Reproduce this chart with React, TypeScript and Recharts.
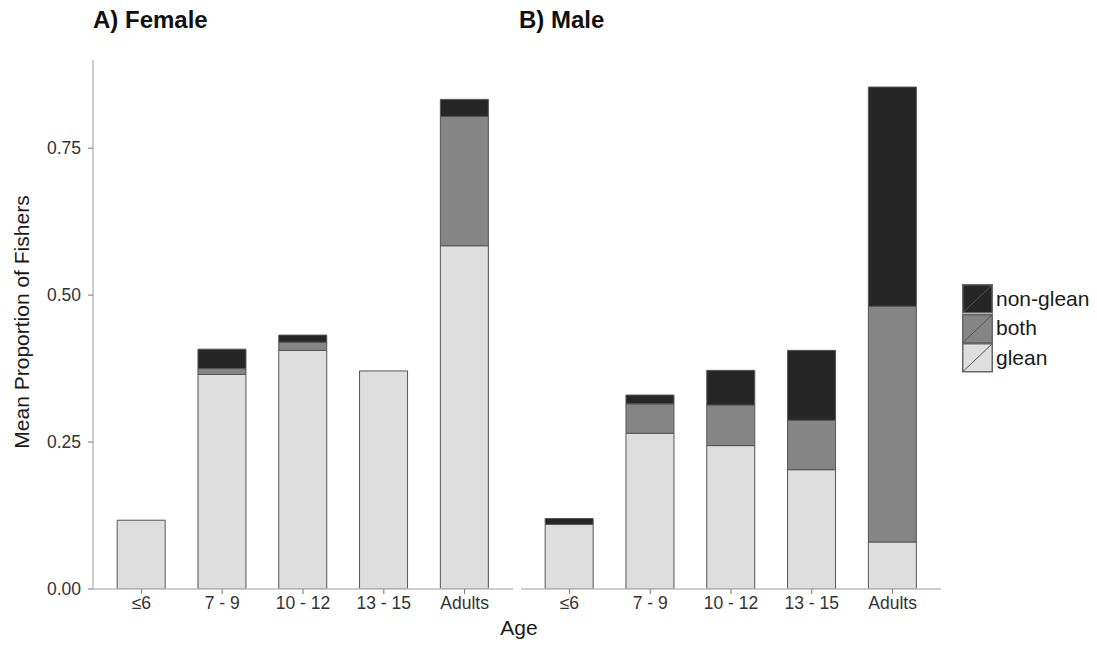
import React from 'react';
import { BarChart, Bar, XAxis, YAxis } from 'recharts';

// Age classes on the x axis
const ageGroups = ['≤6', '7 - 9', '10 - 12', '13 - 15', 'Adults'];

// Mean proportion of fishers by fishing type — females
const femaleGlean = [0.117, 0.365, 0.406, 0.371, 0.584];
const femaleBoth = [0, 0.01, 0.014, 0, 0.22];
const femaleNonGlean = [0, 0.033, 0.012, 0, 0.029];

// Mean proportion of fishers by fishing type — males
const maleGlean = [0.11, 0.265, 0.244, 0.203, 0.08];
const maleBoth = [0, 0.05, 0.069, 0.084, 0.401];
const maleNonGlean = [0.01, 0.015, 0.059, 0.119, 0.373];

const yTicks = [0, 0.25, 0.5, 0.75];

// Stacking order bottom → top
const series = [
  { key: 'glean', label: 'glean', fill: '#dedede' },
  { key: 'both', label: 'both', fill: '#858585' },
  { key: 'nonGlean', label: 'non-glean', fill: '#262626' },
];

const build = (g: number[], b: number[], n: number[]) =>
  ageGroups.map((age, i) => ({ age, glean: g[i], both: b[i], nonGlean: n[i] }));

const femaleData = build(femaleGlean, femaleBoth, femaleNonGlean);
const maleData = build(maleGlean, maleBoth, maleNonGlean);

const FONT = '"Liberation Sans", Arial, Helvetica, sans-serif';
const AXIS_LINE = { stroke: '#bdbdbd', strokeWidth: 1.5 };
const TICK_LINE = { stroke: '#777', strokeWidth: 1 };
const TICK_TEXT = { fill: '#333', fontSize: 17.5, fontFamily: FONT };
const Y_DOMAIN: [number, number] = [0, 0.9];

const bars = () =>
  series.map((s) => (
    <Bar
      key={s.key}
      dataKey={s.key}
      stackId="a"
      fill={s.fill}
      stroke="#555"
      strokeWidth={1}
      isAnimationActive={false}
    />
  ));

const xAxis = () => (
  <XAxis
    dataKey="age"
    type="category"
    padding={{ left: 8, right: 8 }}
    axisLine={AXIS_LINE}
    tickLine={TICK_LINE}
    tickSize={5}
    tickMargin={3}
    tick={TICK_TEXT}
    height={30}
    interval={0}
  />
);

export default function App() {
  return (
    <div
      style={{
        position: 'absolute',
        left: 0,
        top: 0,
        width: 1097,
        height: 645,
        background: '#fff',
        fontFamily: FONT,
      }}
    >
      {/* Panel titles */}
      <div style={{ position: 'absolute', left: 93, top: 6, fontSize: 24, fontWeight: 'bold', color: '#111' }}>
        A) Female
      </div>
      <div style={{ position: 'absolute', left: 519, top: 6, fontSize: 24, fontWeight: 'bold', color: '#111' }}>
        B) Male
      </div>

      {/* Female panel (carries the shared y axis) */}
      <div style={{ position: 'absolute', left: 0, top: 0 }}>
        <BarChart
          width={520}
          height={645}
          data={femaleData}
          margin={{ top: 60, right: 7, bottom: 26, left: 0 }}
          barCategoryGap="20%"
        >
          {xAxis()}
          <YAxis
            width={93}
            domain={Y_DOMAIN}
            ticks={yTicks}
            allowDataOverflow
            tickFormatter={(v: number) => v.toFixed(2)}
            axisLine={AXIS_LINE}
            tickLine={TICK_LINE}
            tickSize={5}
            tickMargin={7}
            tick={TICK_TEXT}
          />
          {bars()}
        </BarChart>
      </div>

      {/* Male panel */}
      <div style={{ position: 'absolute', left: 521, top: 0 }}>
        <BarChart
          width={420}
          height={645}
          data={maleData}
          margin={{ top: 60, right: 0, bottom: 26, left: 0 }}
          barCategoryGap="20%"
        >
          {xAxis()}
          <YAxis hide domain={Y_DOMAIN} ticks={yTicks} allowDataOverflow />
          {bars()}
        </BarChart>
      </div>

      {/* Axis titles */}
      <div
        style={{
          position: 'absolute',
          left: 22,
          top: 322,
          transform: 'translate(-50%, -50%) rotate(-90deg)',
          whiteSpace: 'nowrap',
          fontSize: 21,
          color: '#1a1a1a',
        }}
      >
        Mean Proportion of Fishers
      </div>
      <div
        style={{
          position: 'absolute',
          left: 519,
          top: 628,
          transform: 'translate(-50%, -50%)',
          fontSize: 21,
          color: '#1a1a1a',
        }}
      >
        Age
      </div>

      {/* Legend */}
      <div style={{ position: 'absolute', left: 962, top: 284 }}>
        {[...series].reverse().map((s) => (
          <div key={s.key} style={{ display: 'flex', alignItems: 'center', height: 29.5 }}>
            <svg width={31} height={29.5} style={{ display: 'block' }}>
              <rect x={0.75} y={0.75} width={29.5} height={28} fill={s.fill} stroke="#666" strokeWidth={1.5} />
              <line x1={1} y1={28.5} x2={30} y2={1} stroke="#555" strokeWidth={1} />
            </svg>
            <span style={{ marginLeft: 3, fontSize: 21, color: '#1a1a1a', whiteSpace: 'nowrap' }}>{s.label}</span>
          </div>
        ))}
      </div>
    </div>
  );
}
